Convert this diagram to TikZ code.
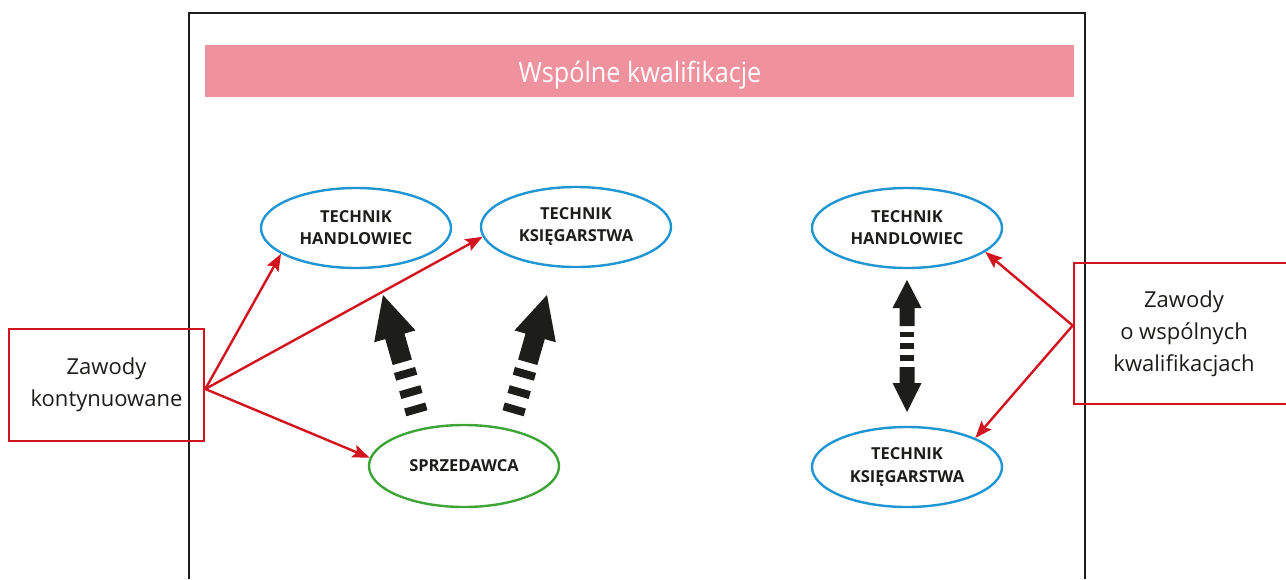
\documentclass[tikz,border=0pt]{standalone}
\usepackage{fontspec}
\setmainfont{Open Sans}
\newfontfamily\titlefont[FakeStretch=0.9]{Open Sans}
\usetikzlibrary{shapes.geometric,arrows.meta}
\definecolor{cblue}{HTML}{1F96D3}
\definecolor{cgreen}{HTML}{3DA535}
\definecolor{cred}{HTML}{D2141E}
\definecolor{cpink}{HTML}{F0919E}
\definecolor{ctext}{HTML}{1D1D1B}
\tikzset{
  elbl/.style={ellipse, draw=cblue, line width=2.4pt, minimum width=190pt, minimum height=80pt,
    inner sep=0pt, align=center, text=ctext, font=\fontsize{16.5}{22}\selectfont\bfseries},
  rbox/.style={rectangle, draw=cred, line width=2.6pt, inner sep=0pt, align=center, text=ctext,
    font=\fontsize{22}{32}\selectfont},
  rarrow/.style={draw=cred, line width=2.4pt, -{Stealth[length=17pt,width=13pt,inset=3pt]}},
  fat/.style={fill=ctext, draw=none}
}
\begin{document}
\begin{tikzpicture}[x=1pt,y=-1pt]
\useasboundingbox[fill=white] (0,0) rectangle (1286,579);
% frame
\draw[line width=1.3pt, ctext] (189,579) -- (189,13) -- (1085,13) -- (1085,579);
% title bar
\node[fill=cpink, minimum width=869pt, minimum height=52pt, inner sep=0pt] (title) at (639.5,71) {};
\node[text=white, inner sep=0pt, anchor=base, font=\titlefont\fontsize{28}{30}\selectfont] (titletext) at (640,82) {Wspólne kwalifikacje};
% ellipses
\node[elbl] (lth) at (356,228) {TECHNIK\\HANDLOWIEC};
\node[elbl] (ltk) at (576,227) {TECHNIK\\KSIĘGARSTWA};
\node[elbl, draw=cgreen, minimum height=82pt] (spr) at (464,466) {SPRZEDAWCA};
\node[elbl] (rth) at (907,228) {TECHNIK\\HANDLOWIEC};
\node[elbl] (rtk) at (907,467) {TECHNIK\\KSIĘGARSTWA};
% boxes
\node[rbox, minimum width=195pt, minimum height=112pt] (lbox) at (106.5,385) {Zawody\\kontynuowane};
\node[rbox, minimum width=220pt, minimum height=141pt] (rbox) at (1184,333.5) {Zawody\\o wspólnych\\kwalifikacjach};
% red arrows
\draw[rarrow] ([yshift=-4pt]lbox.east) -- (lth.199);
\draw[rarrow] ([yshift=-4pt]lbox.east) -- (ltk.186);
\draw[rarrow] ([yshift=-4pt]lbox.east) -- (spr.175);
\draw[rarrow] ([yshift=8pt]rbox.west) -- (rth.343);
\draw[rarrow] ([yshift=8pt]rbox.west) -- (rtk.23);
% fat dashed arrows (left group)
\begin{scope}[shift={(383,295)}, rotate=16]
  \fill[fat] (0,0) -- (21.5,43) -- (10,43) -- (10,70) -- (-10,70) -- (-10,43) -- (-21.5,43) -- cycle;
  \fill[fat] (-11,78) rectangle (11,86);
  \fill[fat] (-11,97) rectangle (11,105);
  \fill[fat] (-11,115) rectangle (11,123);
\end{scope}
\begin{scope}[shift={(547,295)}, rotate=-16]
  \fill[fat] (0,0) -- (21.5,43) -- (10,43) -- (10,70) -- (-10,70) -- (-10,43) -- (-21.5,43) -- cycle;
  \fill[fat] (-11,78) rectangle (11,86);
  \fill[fat] (-11,97) rectangle (11,105);
  \fill[fat] (-11,115) rectangle (11,123);
\end{scope}
% vertical double arrow
\fill[fat] (907,280) -- (921.5,308) -- (914.5,308) -- (914.5,326) -- (899.5,326) -- (899.5,308) -- (892.5,308) -- cycle;
\fill[fat] (899.7,331.5) rectangle (914.3,337);
\fill[fat] (899.7,343.3) rectangle (914.3,349);
\fill[fat] (899.7,355) rectangle (914.3,360.7);
\fill[fat] (899.5,367) -- (914.5,367) -- (914.5,383) -- (921.5,383) -- (907,412) -- (892.5,383) -- (899.5,383) -- cycle;
\end{tikzpicture}
\end{document}
